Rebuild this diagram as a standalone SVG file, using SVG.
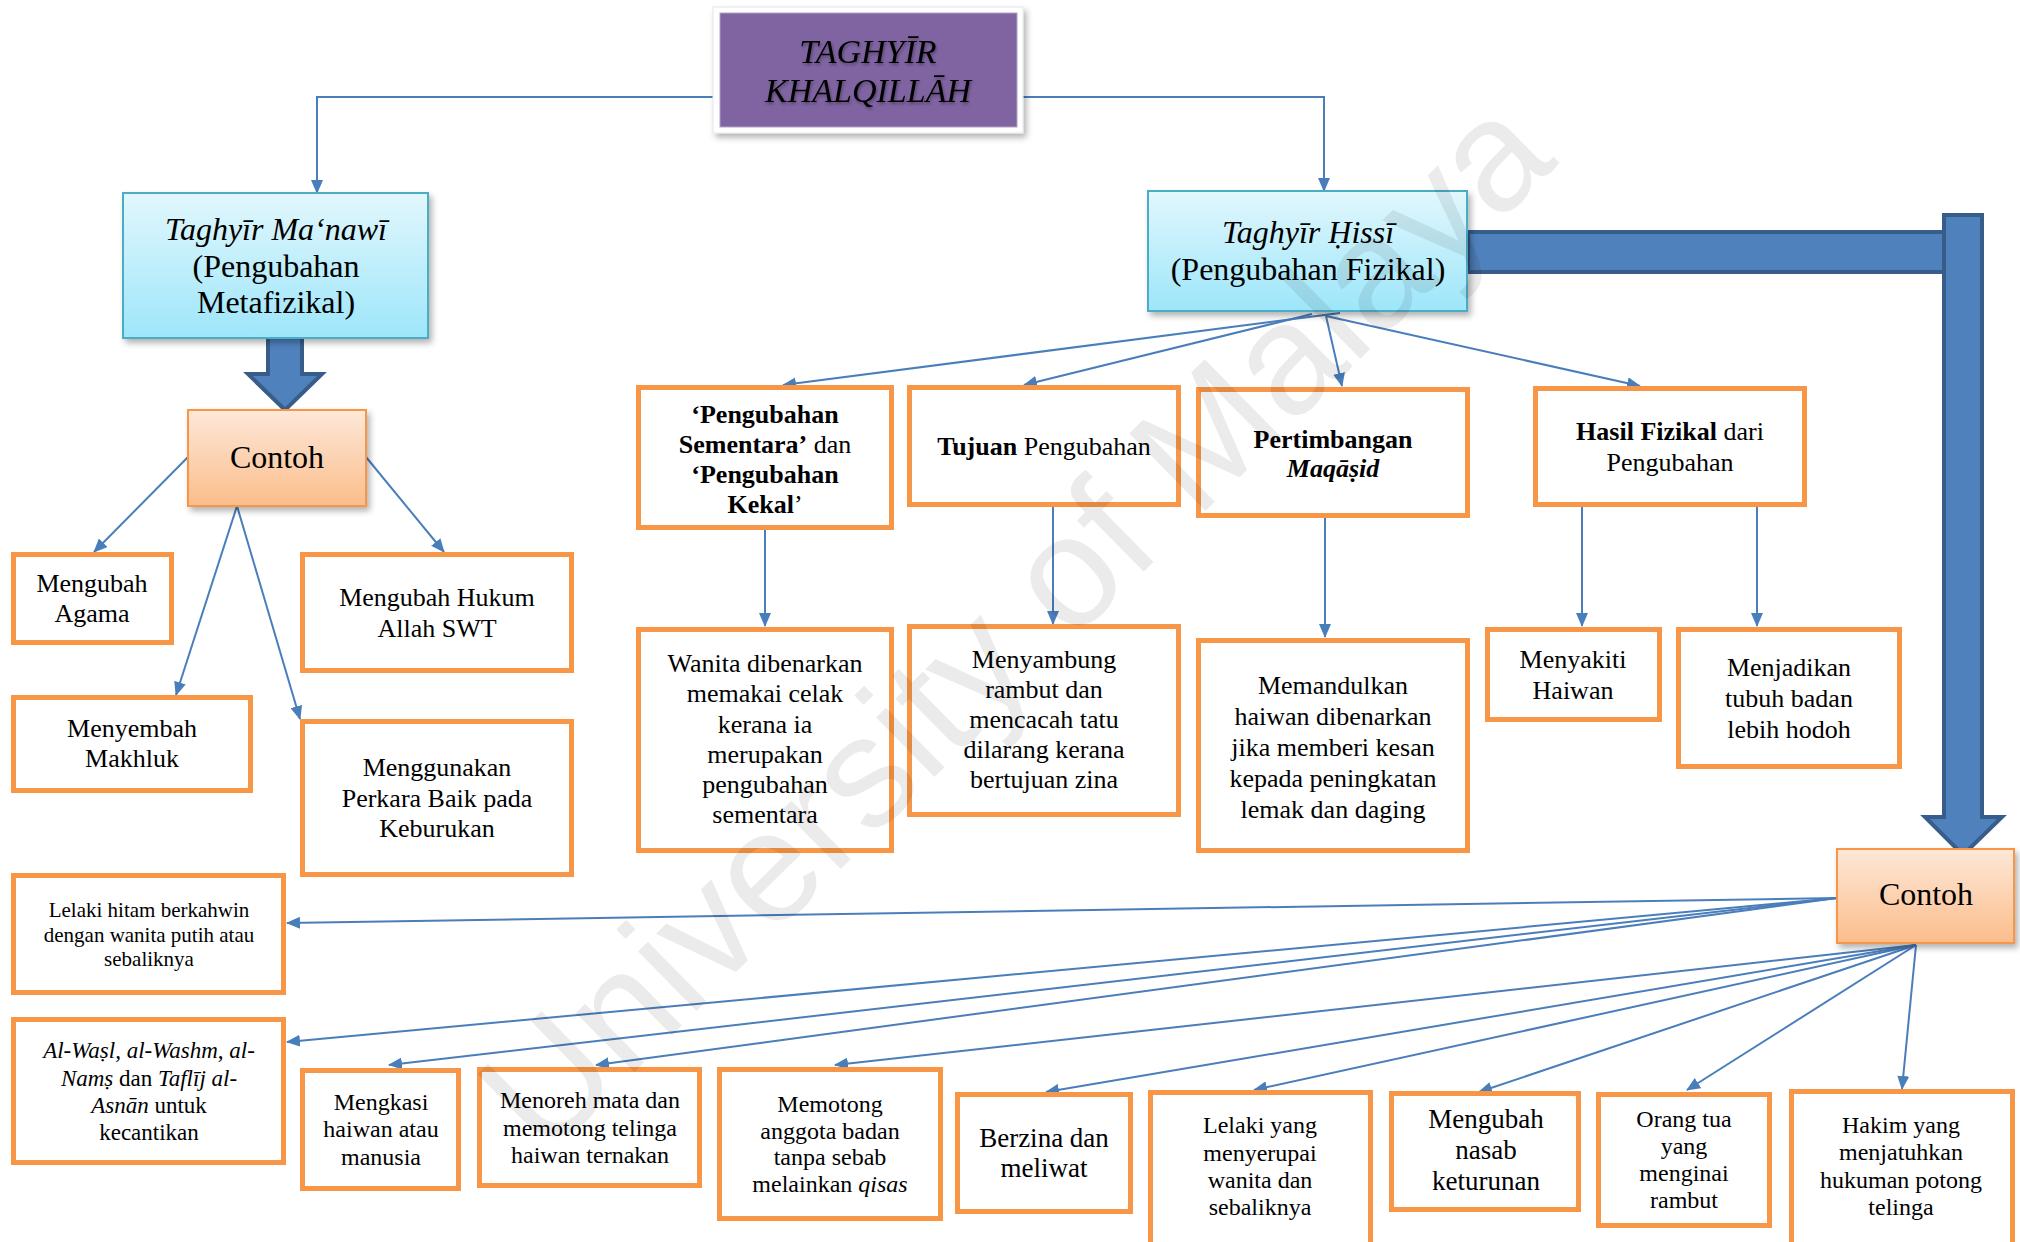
<svg xmlns="http://www.w3.org/2000/svg" width="2020" height="1242" viewBox="0 0 2020 1242">
<style>
.box{fill:#ffffff;stroke:#f79646;stroke-width:5}
.t{font-family:"Liberation Serif","Times New Roman",serif;font-size:26px;text-anchor:middle;fill:#000}
.s21{font-size:21px}.s23{font-size:23px}.s24{font-size:24px}.s27{font-size:27px}.s32{font-size:32px}.s33{font-size:34px}
.b{font-weight:bold}.i{font-style:italic}.n{font-weight:normal;font-style:normal}
.conn{stroke:#4a7ebb;stroke-width:2;fill:none;marker-end:url(#ah)}
.thick{fill:#4f81bd;stroke:#385d8a;stroke-width:4;stroke-linejoin:miter}
.cyan{fill:url(#gc);stroke:#4bacc6;stroke-width:2}
.peach{fill:url(#gp);stroke:#f79646;stroke-width:2}
</style>
<defs>
<marker id="ah" viewBox="0 0 14 12" markerWidth="14" markerHeight="12" refX="13" refY="6" orient="auto" markerUnits="userSpaceOnUse">
<path d="M0,0 L14,6 L0,12 Z" fill="#4a7ebb"/>
</marker>
<linearGradient id="gc" x1="0" y1="0" x2="0" y2="1">
<stop offset="0" stop-color="#e2f7fd"/><stop offset="1" stop-color="#9de6fa"/>
</linearGradient>
<linearGradient id="gp" x1="0" y1="0" x2="0" y2="1">
<stop offset="0" stop-color="#fde8d8"/><stop offset="1" stop-color="#fbbd8b"/>
</linearGradient>
<filter id="sh" x="-10%" y="-10%" width="130%" height="140%">
<feDropShadow dx="3" dy="4" stdDeviation="3" flood-color="#000" flood-opacity="0.3"/>
</filter>
<filter id="tsh" x="-10%" y="-20%" width="130%" height="150%">
<feDropShadow dx="1" dy="2" stdDeviation="1.5" flood-color="#000" flood-opacity="0.35"/>
</filter>
</defs>
<rect width="2020" height="1242" fill="#ffffff"/>

<g id="connectors">
<polyline class="conn" points="713,97 317,97 317,193"/>
<polyline class="conn" points="1023,97 1324,97 1324,191"/>
<line class="conn" x1="188" y1="457" x2="94" y2="552"/>
<line class="conn" x1="366" y1="457" x2="444" y2="552"/>
<line class="conn" x1="237" y1="506" x2="176" y2="695"/>
<line class="conn" x1="237" y1="506" x2="300" y2="719"/>
<line class="conn" x1="1340" y1="313" x2="783" y2="385"/>
<line class="conn" x1="1312" y1="314" x2="1024" y2="385"/>
<line class="conn" x1="1326" y1="316" x2="1342" y2="386"/>
<line class="conn" x1="1326" y1="316" x2="1640" y2="386"/>
<line class="conn" x1="765" y1="530" x2="765" y2="626"/>
<line class="conn" x1="1053" y1="507" x2="1053" y2="624"/>
<line class="conn" x1="1325" y1="518" x2="1325" y2="637"/>
<line class="conn" x1="1582" y1="507" x2="1582" y2="626"/>
<line class="conn" x1="1757" y1="507" x2="1757" y2="626"/>
<line class="conn" x1="1837" y1="898" x2="287" y2="923"/>
<line class="conn" x1="1837" y1="898" x2="287" y2="1042"/>
<line class="conn" x1="1837" y1="898" x2="389" y2="1065"/>
<line class="conn" x1="1837" y1="898" x2="596" y2="1065"/>
<line class="conn" x1="1916" y1="945" x2="835" y2="1065"/>
<line class="conn" x1="1916" y1="945" x2="1046" y2="1092"/>
<line class="conn" x1="1916" y1="945" x2="1254" y2="1090"/>
<line class="conn" x1="1916" y1="945" x2="1479" y2="1092"/>
<line class="conn" x1="1916" y1="945" x2="1687" y2="1090"/>
<line class="conn" x1="1916" y1="945" x2="1902" y2="1089"/>
<polygon class="thick" points="268,333 302,333 302,374 322,374 285,410 248,374 268,374"/>
<rect class="thick" x="1468" y="232" width="478" height="40"/>
<polygon class="thick" points="1944,215 1982,215 1982,817 2002,817 1963,855 1925,817 1944,817"/>
</g>

<g id="title">
<rect x="713" y="7" width="310" height="126" fill="#ffffff" stroke="#e6e6e6" stroke-width="1" filter="url(#sh)"/>
<rect x="720" y="13" width="297" height="114" fill="#8064a2" stroke="#b2a1c7" stroke-width="1"/>
<text class="t s33 i" x="868" y="63" filter="url(#tsh)">TAGHYĪR</text>
<text class="t s33 i" x="868" y="102" filter="url(#tsh)">KHALQILLĀH</text>
</g>

<g id="manawi">
<rect class="cyan" x="123" y="193" width="305" height="145" filter="url(#sh)"/>
<text class="t s32" x="276" y="240"><tspan class="i">Taghyīr Ma‘nawī</tspan></text>
<text class="t s32" x="276" y="277">(Pengubahan</text>
<text class="t s32" x="276" y="313">Metafizikal)</text>
</g>

<g id="hissi">
<rect class="cyan" x="1148" y="191" width="319" height="120" filter="url(#sh)"/>
<text class="t s32 i" x="1308" y="243">Taghyīr Ḥissī</text>
<text class="t s32" x="1308" y="280">(Pengubahan Fizikal)</text>
</g>

<g id="contoh1">
<rect class="peach" x="188" y="410" width="178" height="96" filter="url(#sh)"/>
<text class="t s32" x="277" y="468">Contoh</text>
</g>

<g id="contoh2">
<rect class="peach" x="1837" y="849" width="177" height="94" filter="url(#sh)"/>
<text class="t s32" x="1926" y="905">Contoh</text>
</g>

<g id="agama">
<rect class="box" x="13.5" y="554.5" width="158" height="88"/>
<text class="t" x="92" y="592">Mengubah</text>
<text class="t" x="92" y="622">Agama</text>
</g>
<g id="hukum">
<rect class="box" x="302.5" y="554.5" width="269" height="116"/>
<text class="t" x="437" y="606">Mengubah Hukum</text>
<text class="t" x="437" y="637">Allah SWT</text>
</g>
<g id="makhluk">
<rect class="box" x="13.5" y="697.5" width="237" height="93"/>
<text class="t" x="132" y="737">Menyembah</text>
<text class="t" x="132" y="767">Makhluk</text>
</g>
<g id="menggunakan">
<rect class="box" x="302.5" y="721.5" width="269" height="153"/>
<text class="t" x="437" y="776">Menggunakan</text>
<text class="t" x="437" y="807">Perkara Baik pada</text>
<text class="t" x="437" y="837">Keburukan</text>
</g>

<g id="sementara">
<rect class="box" x="638.5" y="387.5" width="253" height="140"/>
<text class="t b" x="765" y="423">‘Pengubahan</text>
<text class="t" x="765" y="453"><tspan class="b">Sementara’</tspan> dan</text>
<text class="t b" x="765" y="483">‘Pengubahan</text>
<text class="t" x="765" y="513"><tspan class="b">Kekal</tspan>’</text>
</g>
<g id="tujuan">
<rect class="box" x="909.5" y="387.5" width="269" height="117"/>
<text class="t" x="1044" y="455"><tspan class="b">Tujuan</tspan> Pengubahan</text>
</g>
<g id="pertimbangan">
<rect class="box" x="1198.5" y="389.5" width="269" height="126"/>
<text class="t b" x="1333" y="448">Pertimbangan</text>
<text class="t b i" x="1333" y="477">Maqāṣid</text>
</g>
<g id="hasil">
<rect class="box" x="1535.5" y="388.5" width="269" height="116"/>
<text class="t" x="1670" y="440"><tspan class="b">Hasil Fizikal</tspan> dari</text>
<text class="t" x="1670" y="471">Pengubahan</text>
</g>

<g id="wanita">
<rect class="box" x="638.5" y="629.5" width="253" height="221"/>
<text class="t" x="765" y="672">Wanita dibenarkan</text>
<text class="t" x="765" y="702">memakai celak</text>
<text class="t" x="765" y="733">kerana ia</text>
<text class="t" x="765" y="763">merupakan</text>
<text class="t" x="765" y="793">pengubahan</text>
<text class="t" x="765" y="823">sementara</text>
</g>
<g id="menyambung">
<rect class="box" x="909.5" y="626.5" width="269" height="188"/>
<text class="t" x="1044" y="668">Menyambung</text>
<text class="t" x="1044" y="698">rambut dan</text>
<text class="t" x="1044" y="728">mencacah tatu</text>
<text class="t" x="1044" y="758">dilarang kerana</text>
<text class="t" x="1044" y="788">bertujuan zina</text>
</g>
<g id="memandulkan">
<rect class="box" x="1198.5" y="640.5" width="269" height="210"/>
<text class="t" x="1333" y="694">Memandulkan</text>
<text class="t" x="1333" y="725">haiwan dibenarkan</text>
<text class="t" x="1333" y="756">jika memberi kesan</text>
<text class="t" x="1333" y="787">kepada peningkatan</text>
<text class="t" x="1333" y="818">lemak dan daging</text>
</g>
<g id="menyakiti">
<rect class="box" x="1487.5" y="629.5" width="172" height="90"/>
<text class="t" x="1573" y="668">Menyakiti</text>
<text class="t" x="1573" y="699">Haiwan</text>
</g>
<g id="menjadikan">
<rect class="box" x="1678.5" y="629.5" width="221" height="137"/>
<text class="t" x="1789" y="676">Menjadikan</text>
<text class="t" x="1789" y="707">tubuh badan</text>
<text class="t" x="1789" y="738">lebih hodoh</text>
</g>

<g id="hitam">
<rect class="box" x="13.5" y="875.5" width="270" height="117"/>
<text class="t s21" x="149" y="917">Lelaki hitam berkahwin</text>
<text class="t s21" x="149" y="942">dengan wanita putih atau</text>
<text class="t s21" x="149" y="966">sebaliknya</text>
</g>
<g id="wasl">
<rect class="box" x="13.5" y="1019.5" width="270" height="143"/>
<text class="t s23 i" x="149" y="1058">Al-Waṣl, al-Washm, al-</text>
<text class="t s23" x="149" y="1086"><tspan class="i">Namṣ</tspan> dan <tspan class="i">Taflīj al-</tspan></text>
<text class="t s23" x="149" y="1113"><tspan class="i">Asnān</tspan> untuk</text>
<text class="t s23" x="149" y="1140">kecantikan</text>
</g>
<g id="mengkasi">
<rect class="box" x="302.5" y="1070.5" width="156" height="118"/>
<text class="t s24" x="381" y="1110">Mengkasi</text>
<text class="t s24" x="381" y="1137">haiwan atau</text>
<text class="t s24" x="381" y="1165">manusia</text>
</g>
<g id="menoreh">
<rect class="box" x="479.5" y="1069.5" width="220" height="116"/>
<text class="t s24" x="590" y="1108">Menoreh mata dan</text>
<text class="t s24" x="590" y="1136">memotong telinga</text>
<text class="t s24" x="590" y="1163">haiwan ternakan</text>
</g>
<g id="memotong">
<rect class="box" x="719.5" y="1069.5" width="221" height="149"/>
<text class="t s24" x="830" y="1112">Memotong</text>
<text class="t s24" x="830" y="1139">anggota badan</text>
<text class="t s24" x="830" y="1165">tanpa sebab</text>
<text class="t s24" x="830" y="1192">melainkan <tspan class="i">qisas</tspan></text>
</g>
<g id="berzina">
<rect class="box" x="957.5" y="1094.5" width="173" height="117"/>
<text class="t s27" x="1044" y="1147">Berzina dan</text>
<text class="t s27" x="1044" y="1177">meliwat</text>
</g>
<g id="lelakiyang">
<rect class="box" x="1150.5" y="1092.5" width="220" height="165"/>
<text class="t s24" x="1260" y="1133">Lelaki yang</text>
<text class="t s24" x="1260" y="1161">menyerupai</text>
<text class="t s24" x="1260" y="1188">wanita dan</text>
<text class="t s24" x="1260" y="1215">sebaliknya</text>
</g>
<g id="nasab">
<rect class="box" x="1391.5" y="1093.5" width="187" height="116"/>
<text class="t s27" x="1486" y="1128">Mengubah</text>
<text class="t s27" x="1486" y="1159">nasab</text>
<text class="t s27" x="1486" y="1190">keturunan</text>
</g>
<g id="orangtua">
<rect class="box" x="1598.5" y="1094.5" width="171" height="131"/>
<text class="t s24" x="1684" y="1127">Orang tua</text>
<text class="t s24" x="1684" y="1154">yang</text>
<text class="t s24" x="1684" y="1181">menginai</text>
<text class="t s24" x="1684" y="1208">rambut</text>
</g>
<g id="hakim">
<rect class="box" x="1791.5" y="1091.5" width="221" height="165"/>
<text class="t s24" x="1901" y="1133">Hakim yang</text>
<text class="t s24" x="1901" y="1160">menjatuhkan</text>
<text class="t s24" x="1901" y="1188">hukuman potong</text>
<text class="t s24" x="1901" y="1215">telinga</text>
</g>

<g id="watermark">
<text x="545" y="1160" transform="rotate(-44.5 545 1160)" font-family="Liberation Sans, Arial, sans-serif" font-size="158" fill="#000" fill-opacity="0.08">University of Malaya</text>
</g>
</svg>
